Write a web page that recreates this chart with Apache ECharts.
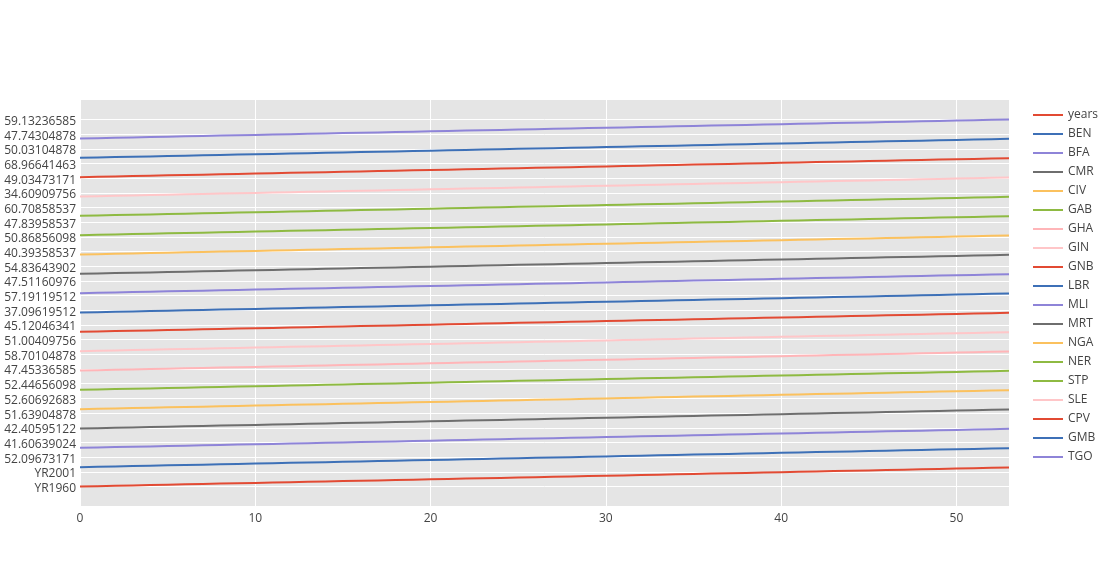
<!DOCTYPE html>
<html>
<head>
<meta charset="utf-8">
<script src="https://cdn.jsdelivr.net/npm/echarts@6/dist/echarts.min.js"></script>
<style>html,body{margin:0;padding:0;background:#fff}#c{width:1116px;height:587px}</style>
</head>
<body>
<div id="c"></div>
<script>
// ---- data ----
const years = ["YR1960","YR1961","YR1962","YR1963","YR1964","YR1965","YR1966","YR1967","YR1968","YR1969",
"YR1970","YR1971","YR1972","YR1973","YR1974","YR1975","YR1976","YR1977","YR1978","YR1979",
"YR1980","YR1981","YR1982","YR1983","YR1984","YR1985","YR1986","YR1987","YR1988","YR1989",
"YR1990","YR1991","YR1992","YR1993","YR1994","YR1995","YR1996","YR1997","YR1998","YR1999",
"YR2000","YR2001","YR2002","YR2003","YR2004","YR2005","YR2006","YR2007","YR2008","YR2009",
"YR2010","YR2011","YR2012","YR2013"];

const BEN = [36.48,36.88,37.31,37.78,38.28,38.82,39.39,39.98,40.60,41.24,
41.89,42.56,43.24,43.92,44.60,45.28,45.95,46.60,47.23,47.83,
48.40,48.95,49.48,49.98,50.45,50.90,51.32,51.72,52.09673171,52.43,
52.73,52.99,53.21,53.39,53.53,53.65,53.76,53.87,53.99,54.13,
54.29,54.48,54.69,54.92,55.17,55.43,55.70,55.98,56.26,56.54,
56.83,57.12,57.41,57.70];
const BFA = [34.70,35.14,35.58,36.03,36.49,36.96,37.44,37.93,38.43,38.94,
39.45,39.95,40.44,40.90,41.30,41.60639024,42.05,42.50,42.96,43.42,
43.88,44.33,44.77,45.19,45.59,45.96,46.30,46.61,46.88,47.11,
47.30,47.45,47.56,47.64,47.70,47.75,47.80,47.86,47.94,48.05,
48.21,48.42,48.69,49.02,49.40,49.83,50.29,50.78,51.28,51.78,
52.27,52.74,53.19,53.62];
const CMR = [41.62,42.01,42.40595122,42.81,43.22,43.64,44.07,44.51,44.96,45.42,
45.88,46.34,46.80,47.25,47.69,48.12,48.54,48.95,49.35,49.74,
50.12,50.49,50.85,51.19,51.51,51.80,52.05,52.25,52.39,52.47,
52.48,52.43,52.32,52.16,51.97,51.77,51.57,51.40,51.27,51.20,
51.21,51.29,51.45,51.63904878,51.89,52.18,52.51,52.87,53.25,53.64,
54.03,54.42,54.79,55.15];
const CIV = [42.08,42.63,43.17,43.70,44.22,44.72,45.21,45.68,46.14,46.58,
47.01,47.42,47.82,48.20,48.57,48.93,49.28,49.62,49.95,50.28,
50.59,50.89,51.17,51.44,51.69,51.91,52.11,52.29,52.43,52.54,
52.60692683,52.58,52.46,52.22,51.88,51.43,50.91,50.34,49.76,49.21,
48.73,48.34,48.06,47.90,47.87,47.95,48.13,48.40,48.74,49.12,
49.52,49.93,50.33,50.72];
const GAB = [41.32,41.98,42.66,43.35,44.05,44.76,45.47,46.18,46.89,47.58,
48.26,48.92,49.56,50.18,50.78,51.36,51.92,52.44656098,52.95,53.42,
53.88,54.33,54.77,55.20,55.62,56.02,56.40,56.75,57.07,57.35,
57.58,57.75,57.86,57.90,57.88,57.80,57.68,57.54,57.40,57.27,
57.18,57.14,57.16,57.25,57.41,57.64,57.93,58.28,58.68,59.12,
59.58,60.06,60.54,61.02];
const GHA = [45.84,46.26,46.67,47.07,47.45336585,47.82,48.17,48.51,48.84,49.15,
49.45,49.74,50.02,50.30,50.58,50.86,51.15,51.45,51.76,52.08,
52.41,52.75,53.09,53.43,53.77,54.10,54.42,54.73,55.02,55.29,
55.54,55.77,55.98,56.17,56.34,56.50,56.65,56.79,56.93,57.07,
57.22,57.45,57.68,57.96,58.30,58.70104878,59.07,59.43,59.78,60.12,
60.45,60.77,61.08,61.38];
const GIN = [34.12,34.48,34.84,35.22,35.61,36.01,36.43,36.86,37.30,37.76,
38.23,38.71,39.21,39.72,40.24,40.77,41.31,41.86,42.42,42.98,
43.55,44.16,44.78,45.40,46.02,46.64,47.26,47.88,48.50,49.14,
49.79,50.42,51.00409756,51.52,51.96,52.32,52.60,52.80,52.94,53.03,
53.10,53.17,53.25,53.36,53.50,53.68,53.90,54.16,54.45,54.77,
55.10,55.44,55.78,56.11];
const GNB = [37.01,37.40,37.80,38.21,38.63,39.06,39.50,39.95,40.41,40.87,
41.33,41.79,42.24,42.68,43.11,43.52,43.92,44.31,44.70,45.12046341,
45.49,45.86,46.21,46.55,46.86,47.15,47.41,47.65,47.86,48.04,
48.21,48.36,48.50,48.63,48.76,48.90,49.05,49.21,49.39,49.59,
49.81,50.05,50.30,50.57,50.85,51.14,51.44,51.75,52.06,52.38,
52.70,53.02,53.33,53.64];
const LBR = [34.56,34.99,35.42,35.84,36.26,36.68,37.09619512,37.52,37.96,38.40,
38.85,39.30,39.75,40.19,40.63,41.06,41.48,41.89,42.28,42.65,
42.99,43.29,43.54,43.72,43.83,43.86,43.80,43.66,43.44,43.16,
42.86,42.58,42.38,42.31,42.43,42.78,43.38,44.22,45.28,46.70,
48.20,49.70,51.10,52.40,53.60,54.70,55.98,57.19119512,57.78,58.35,
58.88,59.38,59.85,60.29];
const MLI = [28.20,28.44,28.70,28.98,29.29,29.63,30.00,30.41,30.86,31.35,
31.88,32.45,33.06,33.70,34.37,35.06,35.76,36.46,37.16,37.85,
38.52,39.25,39.97,40.68,41.38,42.06,42.72,43.36,43.97,44.56,
45.15,45.78,46.38,46.96,47.51160976,48.03,48.52,48.98,49.41,49.82,
50.21,50.59,50.96,51.32,51.67,52.01,52.34,52.66,52.97,53.27,
53.56,53.85,54.13,54.41];
const MRT = [43.52,44.10,44.68,45.25,45.82,46.38,46.93,47.47,48.00,48.52,
49.04,49.56,50.08,50.60,51.12,51.64,52.16,52.68,53.20,53.72,
54.26,54.83643902,55.31,55.76,56.17,56.55,56.89,57.19,57.46,57.69,
57.89,58.06,58.21,58.34,58.46,58.57,58.68,58.79,58.90,59.02,
59.14,59.27,59.41,59.55,59.70,59.86,60.02,60.19,60.36,60.53,
60.70,60.87,61.04,61.21];
const NGA = [37.23,37.61,38.00,38.39,38.78,39.17,39.56,39.96,40.39358537,40.83,
41.27,41.71,42.13,42.54,42.93,43.29,43.62,43.92,44.19,44.43,
44.65,44.85,45.03,45.19,45.33,45.45,45.55,45.63,45.70,45.75,
45.79,45.83,45.86,45.89,45.93,45.98,46.04,46.12,46.22,46.35,
46.60,47.00,47.45,47.93,48.43,48.94,49.45,49.94,50.42,50.86856098,
51.28,51.66,52.01,52.33];
const NER = [35.36,35.57,35.79,36.02,36.26,36.51,36.77,37.04,37.32,37.61,
37.91,38.21,38.52,38.83,39.14,39.45,39.76,40.07,40.38,40.69,
41.00,41.33,41.68,42.04,42.41,42.79,43.18,43.59,44.01,44.44,
44.70,45.20,45.71,46.23,46.76,47.30,47.83958537,48.38,48.94,49.51,
50.09,50.68,51.27,51.86,52.44,53.01,53.56,54.09,54.59,55.06,
55.50,55.91,56.29,56.64];
const STP = [50.38,50.93,51.47,52.01,52.55,53.08,53.60,54.11,54.61,55.10,
55.58,56.04,56.49,56.93,57.36,57.78,58.19,58.59,58.98,59.35,
59.71,60.04,60.35,60.70858537,60.93,61.18,61.40,61.59,61.75,61.88,
61.97,62.03,62.07,62.09,62.11,62.14,62.18,62.24,62.32,62.43,
62.57,62.74,62.93,63.14,63.36,63.59,63.82,64.05,64.27,64.48,
64.68,64.87,65.05,65.22];
const SLE = [30.03,30.50,30.97,31.44,31.91,32.38,32.84,33.29,33.73,34.17,
34.60909756,35.03,35.44,35.82,36.17,36.48,36.75,36.97,37.14,37.26,
37.33,37.36,37.35,37.31,37.25,37.17,37.08,36.99,36.91,36.84,
36.80,36.81,36.86,36.99,37.20,37.49,37.88,38.36,38.93,39.58,
40.30,41.07,41.88,42.71,43.54,44.50,45.40,46.25,47.02,47.73,
48.40,49.03473171,49.62,50.17];
const CPV = [48.84,49.42,49.98,50.53,51.07,51.60,52.12,52.64,53.16,53.69,
54.23,54.78,55.35,55.93,56.52,57.12,57.73,58.34,58.95,59.56,
60.16,60.75,61.33,61.90,62.46,63.01,63.55,64.08,64.60,65.11,
65.61,66.10,66.57,67.02,67.44,67.83,68.19,68.52,68.96641463,69.38,
69.76,70.10,70.41,70.69,70.94,71.17,71.38,71.58,71.77,71.96,
72.15,72.34,72.53,72.72];
const GMB = [32.08,32.62,33.18,33.76,34.36,34.98,35.62,36.28,36.96,37.66,
38.38,39.12,39.88,40.66,41.46,42.28,43.12,43.96,44.70,45.43,
46.20,46.98,47.75,48.51,49.27,50.03104878,50.74,51.40,52.00,52.54,
53.02,53.45,53.83,54.17,54.47,54.74,54.99,55.22,55.44,55.65,
55.86,56.07,56.28,56.49,56.70,56.91,57.12,57.33,57.54,57.75,
57.96,58.17,58.38,58.59];
const TGO = [40.20,40.85,41.50,42.15,42.79,43.42,44.04,44.65,45.25,45.84,
46.42,47.10,47.74304878,48.34,48.90,49.42,49.90,50.34,50.74,51.10,
51.42,51.70,51.94,52.14,52.30,52.42,52.50,52.55,52.57,52.58,
52.56,52.53,52.50,52.48,52.47,52.49,52.54,52.62,52.74,52.90,
53.20,53.55,53.93,54.33,54.75,55.18,55.62,56.06,56.50,56.93,
57.45,58.02,58.58,59.13236585];

const seriesNames = ["years","BEN","BFA","CMR","CIV","GAB","GHA","GIN","GNB","LBR","MLI","MRT","NGA","NER","STP","SLE","CPV","GMB","TGO"];
const seriesValues = [years,BEN,BFA,CMR,CIV,GAB,GHA,GIN,GNB,LBR,MLI,MRT,NGA,NER,STP,SLE,CPV,GMB,TGO];
const xIndex = years.map((_, i) => i);

const yTickLabels = ["YR1960","YR2001","52.09673171","41.60639024","42.40595122","51.63904878","52.60692683",
"52.44656098","47.45336585","58.70104878","51.00409756","45.12046341","37.09619512","57.19119512",
"47.51160976","54.83643902","40.39358537","50.86856098","47.83958537","60.70858537","34.60909756",
"49.03473171","68.96641463","50.03104878","47.74304878","59.13236585"];

// ---- style ----
const colors = ["#E24A33","#3D70B7","#8E84D8","#6E6E6E","#FBC15E","#8EBA42","#FFB5B8","#FFC6C8",
"#E24A33","#3D70B7","#8E84D8","#6E6E6E","#FBC15E","#8EBA42","#8EBA42","#FFC6C8","#E24A33","#3D70B7","#8E84D8"];

// category list (y axis is categorical: every value in order of appearance)
const categories = [];
const offsets = [];
seriesValues.forEach(arr => { offsets.push(categories.length); arr.forEach(v => categories.push(String(v))); });
const tickPos = [];
let searchFrom = 0;
yTickLabels.forEach(lbl => { const k = categories.indexOf(lbl, searchFrom); tickPos.push(k); searchFrom = k + 1; });

const font = '"Open Sans", verdana, arial, sans-serif';
const chart = echarts.init(document.getElementById('c'), null, {renderer: 'canvas'});
chart.setOption({
  animation: false,
  backgroundColor: '#ffffff',
  textStyle: {fontFamily: font},
  grid: {left: 80, top: 100, right: 107, bottom: 81, show: true, backgroundColor: '#E5E5E5', borderWidth: 0, containLabel: false},
  legend: {
    orient: 'vertical', left: 1028, top: 104, itemWidth: 30, itemHeight: 12, itemGap: 7,
    icon: 'path://M0,0 L30,0 L30,2 L0,2 Z',
    textStyle: {fontFamily: font, fontSize: 12, color: '#444'},
    data: seriesNames.map((n, i) => ({name: n, itemStyle: {color: colors[i]}}))
  },
  xAxis: {
    type: 'value', min: 0, max: 53, interval: 10,
    axisLine: {show: false}, axisTick: {show: false},
    axisLabel: {color: '#444', fontSize: 12, fontFamily: font, margin: 7, showMaxLabel: false},
    splitLine: {show: true, showMaxLine: false, lineStyle: {color: '#ffffff', width: 1}}
  },
  yAxis: {
    type: 'value', min: -54.5, max: 1079.5,
    axisLine: {show: false},
    axisTick: {show: false, customValues: tickPos},
    axisLabel: {customValues: tickPos, color: '#444', fontSize: 12, fontFamily: font, margin: 4,
      formatter: v => '{a|' + (categories[Math.round(v)] || '') + '}',
      rich: {a: {color: '#444', fontSize: 12, fontFamily: font, padding: [4, 0, 0, 0]}}},
    splitLine: {show: true, lineStyle: {color: '#ffffff', width: 1}}
  },
  series: seriesNames.map((n, i) => ({
    name: n, type: 'line', symbol: 'none', showSymbol: false,
    lineStyle: {width: 2, color: colors[i]}, itemStyle: {color: colors[i]},
    data: xIndex.map(j => [j, offsets[i] + j])
  }))
});
</script>
</body>
</html>
